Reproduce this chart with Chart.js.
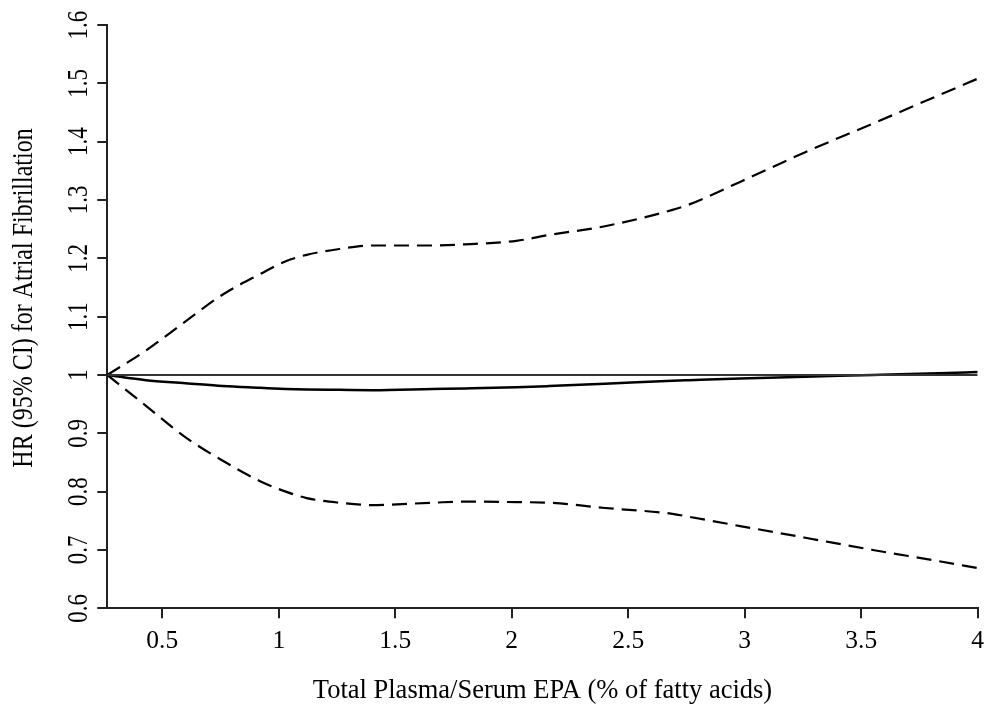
<!DOCTYPE html>
<html>
<head>
<meta charset="utf-8">
<script src="https://cdn.jsdelivr.net/npm/chart.js@4.4.0/dist/chart.umd.min.js"></script>
<style>
  html, body { margin: 0; padding: 0; background: #fff; }
  #chart { display: block; }
</style>
</head>
<body>
<canvas id="chart" width="987" height="713"></canvas>
<script>
// values
const epa = [0.264, 0.43, 0.6, 0.76, 0.92, 1.03, 1.12, 1.26, 1.4, 1.66, 1.8, 2.02, 2.16, 2.4, 2.69, 2.76, 2.98, 3.26, 3.55, 3.83, 4.0]
const hr = [1.0, 0.991, 0.986, 0.981, 0.978, 0.976, 0.975, 0.9745, 0.974, 0.976, 0.977, 0.979, 0.981, 0.985, 0.99, 0.991, 0.994, 0.997, 1.0, 1.003, 1.005]
const upper = [1.0, 1.042, 1.092, 1.138, 1.173, 1.195, 1.206, 1.216, 1.222, 1.222, 1.224, 1.23, 1.24, 1.255, 1.283, 1.292, 1.331, 1.382, 1.431, 1.479, 1.508]
const lower = [1.0, 0.947, 0.893, 0.853, 0.818, 0.8, 0.789, 0.781, 0.777, 0.781, 0.783, 0.782, 0.781, 0.772, 0.762, 0.757, 0.741, 0.721, 0.7, 0.681, 0.669]
const refX = [0.264, 4]
const refY = [1, 1]
const xTicks = [0.5, 1, 1.5, 2, 2.5, 3, 3.5, 4]
const yTicks = [0.6, 0.7, 0.8, 0.9, 1, 1.1, 1.2, 1.3, 1.4, 1.5, 1.6]
const xTitle = 'Total Plasma/Serum EPA (% of fatty acids)'
const yTitle = 'HR (95% CI) for Atrial Fibrillation'

const serif = "'Liberation Serif', 'Times New Roman', serif"

function toPoints(xs, ys) {
  return xs.map((x, i) => ({ x, y: ys[i] }))
}

// R-style y axis: tick labels and title read bottom to top
const yAxisText = {
  id: 'yAxisText',
  afterDraw(chart) {
    const ctx = chart.ctx
    const scale = chart.scales.y
    ctx.save()
    ctx.fillStyle = '#000'
    ctx.textAlign = 'center'
    ctx.textBaseline = 'alphabetic'
    ctx.font = '23px ' + serif
    scale.ticks.forEach((t) => {
      ctx.save()
      ctx.translate(87, scale.getPixelForValue(t.value))
      ctx.rotate(-Math.PI / 2)
      ctx.scale(1, 1.25)
      ctx.fillText(String(t.value), 0, 0)
      ctx.restore()
    })
    ctx.font = '24px ' + serif
    ctx.translate(32, 298)
    ctx.rotate(-Math.PI / 2)
    ctx.scale(1, 1.2)
    ctx.fillText(yTitle, 0, 0)
    ctx.restore()
  }
}

const ctx = document.getElementById('chart')

const chartInstance = new Chart(ctx, {
  type: 'scatter',
  data: {
    datasets: [
      {
        label: 'reference',
        data: toPoints(refX, refY),
        showLine: true,
        borderColor: '#333',
        borderWidth: 2,
        pointRadius: 0
      },
      {
        label: 'HR',
        data: toPoints(epa, hr),
        showLine: true,
        borderColor: '#000',
        borderWidth: 2.5,
        pointRadius: 0,
        cubicInterpolationMode: 'monotone'
      },
      {
        label: 'upper 95% CI',
        data: toPoints(epa, upper),
        showLine: true,
        borderColor: '#000',
        borderWidth: 2.2,
        borderDash: [15, 8],
        pointRadius: 0,
        cubicInterpolationMode: 'monotone'
      },
      {
        label: 'lower 95% CI',
        data: toPoints(epa, lower),
        showLine: true,
        borderColor: '#000',
        borderWidth: 2.2,
        borderDash: [15, 8],
        pointRadius: 0,
        cubicInterpolationMode: 'monotone'
      }
    ]
  },
  options: {
    responsive: false,
    animation: false,
    layout: {
      padding: { left: 0, top: 25, right: 9.3, bottom: 0 }
    },
    plugins: {
      legend: { display: false },
      tooltip: { enabled: false }
    },
    scales: {
      x: {
        type: 'linear',
        min: 0.264,
        max: 4,
        afterBuildTicks: (scale) => {
          scale.ticks = xTicks.map((v) => ({ value: v }))
        },
        afterFit: (scale) => {
          scale.height = 713 - 608.3
          scale.paddingLeft = 0
          scale.paddingRight = 0
        },
        border: { display: true, color: '#222', width: 2 },
        grid: {
          display: true,
          drawOnChartArea: false,
          drawTicks: true,
          tickLength: 10,
          color: '#222',
          lineWidth: 2
        },
        ticks: {
          color: '#000',
          padding: 8,
          maxRotation: 0,
          font: { family: serif, size: 25.5 },
          callback: (v) => String(v)
        },
        title: {
          display: true,
          text: xTitle,
          color: '#000',
          font: { family: serif, size: 26.5 },
          padding: { top: 0, bottom: 6 }
        }
      },
      y: {
        type: 'linear',
        min: 0.6,
        max: 1.6,
        afterBuildTicks: (scale) => {
          scale.ticks = yTicks.map((v) => ({ value: v }))
        },
        afterFit: (scale) => {
          scale.width = 107.3
          scale.paddingTop = 0
          scale.paddingBottom = 0
        },
        border: { display: true, color: '#222', width: 2 },
        grid: {
          display: true,
          drawOnChartArea: false,
          drawTicks: true,
          tickLength: 10,
          color: '#222',
          lineWidth: 2
        },
        ticks: { display: false }
      }
    }
  },
  plugins: [yAxisText]
})

chartInstance.update()
</script>
</body>
</html>
